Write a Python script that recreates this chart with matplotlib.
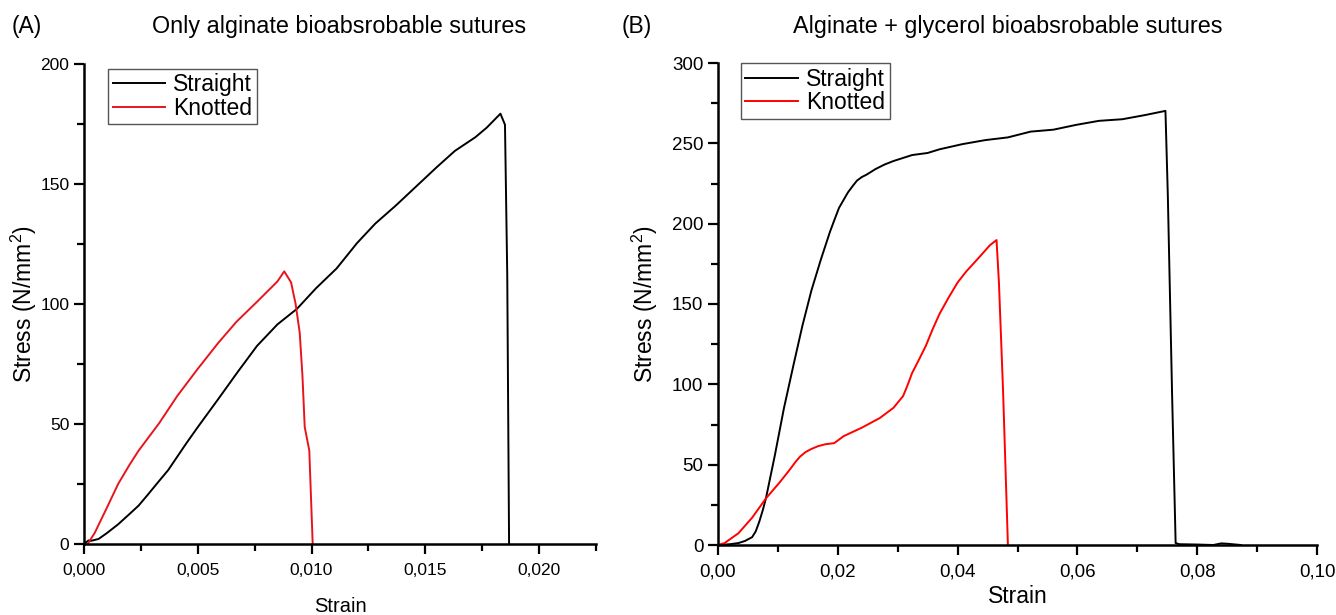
import matplotlib
matplotlib.use('Agg')
import matplotlib.pyplot as plt
from matplotlib.ticker import MultipleLocator, FuncFormatter

plt.rcParams['font.family'] = ['Liberation Sans', 'DejaVu Sans']
plt.rcParams['mathtext.default'] = 'regular'

# panel A - only alginate
a_straight_x = [0, 0.0002, 0.0003, 0.00064, 0.001, 0.0015, 0.002, 0.0024, 0.0028, 0.00326,
                0.0037, 0.0041, 0.0045, 0.005, 0.00587, 0.00674, 0.0076, 0.0085, 0.00936,
                0.0102, 0.0111, 0.012, 0.0128, 0.0137, 0.0146, 0.0155, 0.0163, 0.0172,
                0.0177, 0.0183, 0.0185, 0.0186, 0.01868]
a_straight_y = [0, 1.5, 1.3, 2.1, 4.5, 8.2, 12.5, 16, 20.5, 25.8,
                30.8, 36.4, 42, 48.7, 60, 71.5, 82.5, 91.5, 98,
                106.6, 114.8, 125.4, 133.5, 141, 149, 157, 163.8, 169.5,
                173.5, 179.3, 174.7, 112, 0]
a_knot_x = [0.00016, 0.00047, 0.001, 0.0015, 0.002, 0.0024, 0.0033, 0.0041, 0.005, 0.0059,
            0.0067, 0.0076, 0.0085, 0.0088, 0.0091, 0.0093, 0.00948, 0.0096, 0.0097,
            0.0099, 0.01005]
a_knot_y = [0, 4.6, 15, 25, 33, 38.9, 50.3, 61.7, 73, 83.8,
            92.6, 100.9, 109.4, 113.6, 109, 100, 88, 70, 48.7,
            39, 0]

# panel B - alginate + glycerol
b_straight_x = [0, 0.002, 0.0034, 0.0045, 0.0057, 0.0063, 0.0069, 0.0075, 0.008, 0.0095,
                0.011, 0.0126, 0.0141, 0.0156, 0.0172, 0.0187, 0.0195, 0.0202, 0.021,
                0.0217, 0.0225, 0.0232, 0.024, 0.0248, 0.0263, 0.0278, 0.0293, 0.0324,
                0.035, 0.037, 0.0408, 0.0446, 0.0484, 0.0522, 0.056, 0.0598, 0.0636,
                0.0675, 0.0713, 0.0747, 0.0751, 0.0758, 0.0764, 0.077, 0.08, 0.0827,
                0.084, 0.085, 0.0873]
b_straight_y = [0, 0.5, 1.2, 2.5, 4.9, 8.5, 14.6, 22, 29, 56,
                85, 112, 136.6, 158.5, 178, 195, 203, 209.8, 215,
                219.5, 223.5, 226.8, 229, 230.5, 234, 236.8, 239, 242.7,
                244, 246.3, 249.5, 252, 253.7, 257.3, 258.5, 261.5, 264,
                265, 267.6, 270.2, 217, 95, 1.2, 0.5, 0.3, 0,
                1, 0.8, 0]
b_knot_x = [0, 0.0011, 0.0034, 0.0057, 0.008, 0.0103, 0.012, 0.013, 0.0137, 0.0146,
            0.0156, 0.0167, 0.0179, 0.0194, 0.021, 0.024, 0.027, 0.0293, 0.0309,
            0.0316, 0.0324, 0.0335, 0.0347, 0.0358, 0.037, 0.0385, 0.04, 0.0415,
            0.0431, 0.0443, 0.0454, 0.0465, 0.0469, 0.0476, 0.0484]
b_knot_y = [0, 1.2, 7.3, 17, 29, 39, 47, 52, 55, 57.8,
            59.8, 61.5, 62.7, 63.4, 67.8, 73, 79, 85.4, 92.7,
            99, 107, 115, 124, 134, 144, 154, 163.4, 170.5,
            177, 182, 186.6, 189.8, 163.4, 95, 0]

W, H = 1336, 615
fig = plt.figure(figsize=(W / 100, H / 100), dpi=100)

def px(l, r, top, bot):
    return [l / W, 1 - bot / H, (r - l) / W, (bot - top) / H]

axA = fig.add_axes(px(84, 596, 64, 544))
axB = fig.add_axes(px(718, 1317, 63, 545))

def comma_fmt(nd):
    return FuncFormatter(lambda v, p: ('%.*f' % (nd, v)).replace('.', ','))

def style(ax, tick_fs, xpad, lab_fs, xlab_fs):
    for s in ['top', 'right']:
        ax.spines[s].set_visible(False)
    for s in ['left', 'bottom']:
        ax.spines[s].set_linewidth(1.8)
    ax.tick_params(which='major', direction='out', length=7.5, width=1.6,
                   labelsize=tick_fs, pad=3)
    ax.tick_params(which='minor', direction='out', length=4.8, width=1.6)
    ax.tick_params(axis='x', which='major', pad=xpad)
    ax.yaxis.set_major_locator(MultipleLocator(50))
    ax.yaxis.set_minor_locator(MultipleLocator(25))
    ax.set_ylabel('Stress (N/mm$^{2}$)', fontsize=lab_fs)
    ax.set_xlabel('Strain', fontsize=xlab_fs)

# panel A
axA.plot(a_straight_x, a_straight_y, color='black', lw=1.4, label='Straight')
axA.plot(a_knot_x, a_knot_y, color='#e8141c', lw=1.4, label='Knotted')
axA.set_xlim(0, 0.0225)
axA.set_ylim(0, 200)
style(axA, 12.5, 6.5, 16.5, 14.5)
axA.xaxis.set_major_locator(MultipleLocator(0.005))
axA.xaxis.set_minor_locator(MultipleLocator(0.0025))
axA.xaxis.set_major_formatter(comma_fmt(3))
axA.xaxis.set_label_coords(0.5, -0.11)
axA.yaxis.set_label_coords(-0.087, 0.5)

# panel B
axB.plot(b_straight_x, b_straight_y, color='black', lw=1.4, label='Straight')
axB.plot(b_knot_x, b_knot_y, color='#ff0000', lw=1.4, label='Knotted')
axB.set_xlim(0, 0.10)
axB.set_ylim(0, 300)
style(axB, 13.5, 5.5, 16.5, 16.5)
axB.xaxis.set_major_locator(MultipleLocator(0.02))
axB.xaxis.set_minor_locator(MultipleLocator(0.01))
axB.xaxis.set_major_formatter(comma_fmt(2))
axB.xaxis.set_label_coords(0.5, -0.083)
axB.yaxis.set_label_coords(-0.097, 0.5)

for ax, anchor in [(axA, (0.047, 0.99)), (axB, (0.038, 1.0))]:
    leg = ax.legend(loc='upper left', bbox_to_anchor=anchor, fontsize=16.5,
                    fancybox=False, framealpha=1, edgecolor='#555555',
                    handlelength=2.3, handletextpad=0.35, labelspacing=0.02,
                    borderpad=0.2, borderaxespad=0)
    leg.get_frame().set_linewidth(1.0)

fig.text(12 / W, 1 - 27 / H, '(A)', fontsize=16.5, va='center', ha='left')
fig.text(339 / W, 1 - 26 / H, 'Only alginate bioabsrobable sutures', fontsize=16.8,
         va='center', ha='center')
fig.text(622 / W, 1 - 27 / H, '(B)', fontsize=16.5, va='center', ha='left')
fig.text(1008 / W, 1 - 26 / H, 'Alginate + glycerol bioabsrobable sutures', fontsize=16.8,
         va='center', ha='center')

fig.savefig('out.png', dpi=100)
